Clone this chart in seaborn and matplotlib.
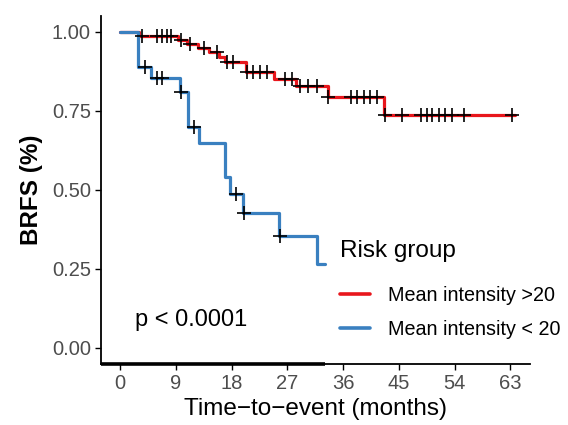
import numpy as np
import pandas as pd
import matplotlib
matplotlib.use("Agg")
import matplotlib.pyplot as plt
import seaborn as sns

# ---- data ----
groups = ["Mean intensity >20", "Mean intensity < 20"]
colors = ["#E8161C", "#3A80C0"]

# Kaplan-Meier step points (time, survival) and the last follow-up time
high_times = [0, 3.0, 9.3, 10.8, 12.5, 14.3, 16.0, 17.0, 20.4, 24.8, 28.4, 33.5, 42.6, 63.8]
high_surv = [1.0, 0.987, 0.975, 0.962, 0.949, 0.936, 0.921, 0.906, 0.872, 0.850, 0.829, 0.795, 0.736, 0.736]
high_cens = [3.5, 5.9, 6.7, 7.5, 8.3, 9.8, 11.3, 13.5, 15.6, 17.2, 18.2, 20.5, 21.5, 22.6, 23.7,
             26.7, 27.7, 29.1, 30.4, 31.8, 33.6, 37.2, 38.2, 39.3, 40.4, 41.5, 42.7, 45.5,
             48.5, 49.5, 50.3, 51.4, 52.5, 53.6, 55.5, 63.3]

low_times = [0, 2.9, 5.0, 9.6, 11.0, 12.8, 17.0, 17.7, 19.9, 25.6, 31.8, 33.0]
low_surv = [1.0, 0.889, 0.854, 0.810, 0.700, 0.650, 0.542, 0.487, 0.427, 0.355, 0.266, 0.266]
low_cens = [4.1, 5.9, 6.8, 9.8, 12.0, 18.7, 20.0, 25.8]

x_ticks = [0, 9, 18, 27, 36, 45, 54, 63]
y_ticks = [0.00, 0.25, 0.50, 0.75, 1.00]
y_ticklabels = ["0.00", "0.25", "0.50", "0.75", "1.00"]
p_text = "p < 0.0001"


def surv_at(t, times, surv):
    idx = np.searchsorted(np.asarray(times), t, side="right") - 1
    return float(np.asarray(surv)[idx])


curves = pd.concat([
    pd.DataFrame({"time": high_times, "surv": high_surv, "group": groups[0]}),
    pd.DataFrame({"time": low_times, "surv": low_surv, "group": groups[1]}),
])
cens = pd.concat([
    pd.DataFrame({"time": high_cens,
                  "surv": [surv_at(t, high_times, high_surv) for t in high_cens],
                  "group": groups[0]}),
    pd.DataFrame({"time": low_cens,
                  "surv": [surv_at(t, low_times, low_surv) for t in low_cens],
                  "group": groups[1]}),
])

sns.set_theme(style="white")
plt.rcParams["font.family"] = ["Liberation Sans", "DejaVu Sans"]

fig = plt.figure(figsize=(5.68, 4.25), dpi=100)
ax = fig.add_axes([0.177, 0.144, 0.756, 0.818])

palette = dict(zip(groups, colors))
sns.lineplot(data=curves, x="time", y="surv", hue="group", hue_order=groups,
             palette=palette, estimator=None, sort=False, drawstyle="steps-post",
             linewidth=2.3, ax=ax, legend=True)
sns.scatterplot(data=cens, x="time", y="surv", marker="+", color="black",
                s=100, linewidth=1.2, ax=ax, legend=False, zorder=5)

ax.set_xlim(-3.15, 66.15)
ax.set_ylim(-0.05, 1.05)
ax.set_xticks(x_ticks)
ax.set_xticklabels([str(v) for v in x_ticks])
ax.set_yticks(y_ticks)
ax.set_yticklabels(y_ticklabels)

for s in ["top", "right"]:
    ax.spines[s].set_visible(False)
for s in ["left", "bottom"]:
    ax.spines[s].set_color("black")
    ax.spines[s].set_linewidth(1.3)
# thicker stretch of the bottom axis line under the shorter curve
ax.plot([-3.15, low_times[-1]], [-0.05, -0.05], color="black", lw=2.6,
        solid_capstyle="butt", clip_on=False, zorder=6)

ax.tick_params(axis="both", which="major", direction="out", length=4, width=1,
               color="black", labelcolor="#4D4D4D", labelsize=14.5, pad=3,
               bottom=True, left=True)

ax.set_xlabel("Time\u2212to\u2212event (months)", fontsize=17.5, color="black", labelpad=4)
ax.set_ylabel("BRFS (%)", fontsize=17.5, fontweight="bold", color="black", labelpad=6)

ax.text(2.4, 0.09, p_text, fontsize=17, color="black", va="center", ha="left")

leg = ax.legend(title="Risk group", loc="upper left",
                bbox_to_anchor=(330 / 568, 1 - 230 / 425), bbox_transform=fig.transFigure,
                frameon=False, fontsize=14.2, title_fontsize=17.5,
                handlelength=1.55, handletextpad=0.9, labelspacing=0.75,
                borderpad=0.5, borderaxespad=0)
leg._legend_box.align = "left"
leg._legend_box.sep = 17.5  # gap between title and entries (points)
leg.get_title().set_color("black")
for t in leg.get_texts():
    t.set_color("black")
for line in leg.get_lines():
    line.set_linewidth(2.6)

fig.savefig("out.png", dpi=100)
